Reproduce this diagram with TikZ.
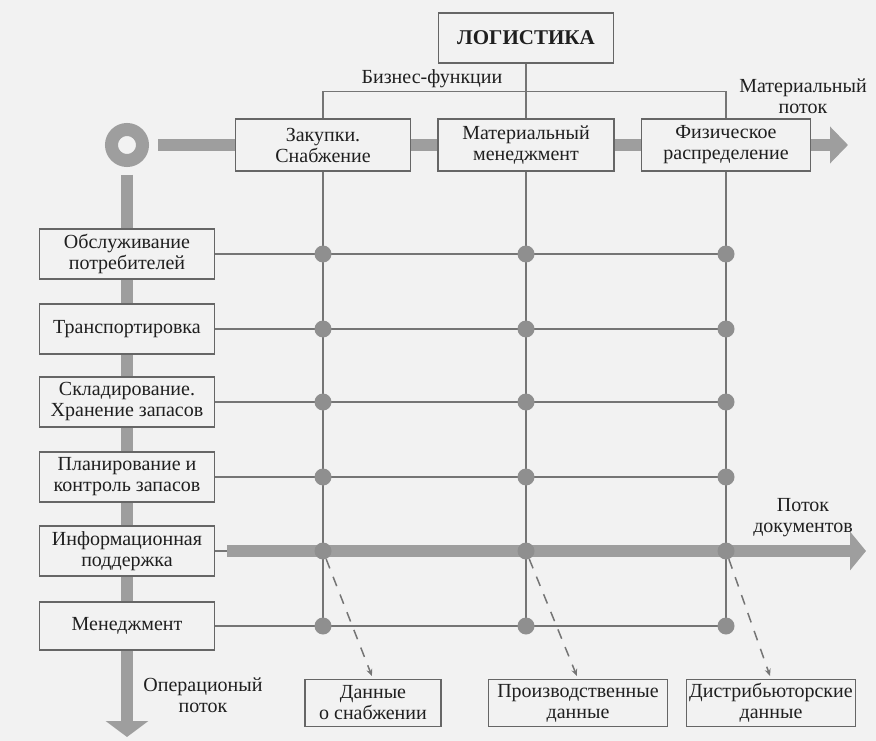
\documentclass[tikz,border=0pt]{standalone}
\usepackage{fontspec}
\setmainfont{Liberation Serif}
\usetikzlibrary{arrows.meta,backgrounds}
\definecolor{paper}{gray}{0.95}
\definecolor{barg}{gray}{0.62}
\definecolor{dotg}{gray}{0.56}
\definecolor{lineg}{gray}{0.46}
\definecolor{boxg}{gray}{0.40}
\definecolor{inkg}{gray}{0.12}
\begin{document}
\begin{tikzpicture}[x=1pt,y=-1pt,
  box/.style={draw=boxg, line width=1.4pt, fill=paper, align=center, inner sep=2pt,
    text=inkg, font=\fontsize{20}{21}\selectfont},
  lbox/.style={box, minimum width=175pt, minimum height=50pt},
  lbl/.style={align=center, text=inkg, font=\fontsize{20}{21}\selectfont},
  ring/.style={circle, draw=barg, line width=13pt, minimum size=31pt, inner sep=0pt},
  dot/.style={circle, fill=dotg, inner sep=0pt, minimum size=17pt},
  bar/.style={draw=barg, line width=12pt},
  thinline/.style={draw=lineg, line width=1.3pt},
  dasharrow/.style={draw=lineg, line width=1.5pt, dash pattern=on 10pt off 9pt,
    -{Stealth[length=7pt,width=6pt]}, shorten >=3pt}]

  \useasboundingbox (0,0) rectangle (876,741);

  % business functions
  \node[box, minimum width=175pt, minimum height=50pt,
    font=\bfseries\fontsize{21}{24}\selectfont] (log) at (526,38) {ЛОГИСТИКА};
  \node[lbl] (biz) at (432,79) {Бизнес-функции};
  \node[box, minimum width=175pt, minimum height=52pt] (zak) at (323,145) {Закупки.\\Снабжение};
  \node[box, minimum width=176pt, minimum height=52pt] (mat) at (526,145) {Материальный\\менеджмент};
  \node[box, minimum width=169pt, minimum height=52pt] (fiz) at (726,145) {Физическое\\распределение};
  \node[lbl] (matlbl) at (803,96) {Материальный\\поток};
  \node[ring] (ring) at (127,145) {};
  \coordinate (matEnd) at (848,145);

  % operations
  \node[lbox] (serv) at (127,254) {Обслуживание\\потребителей};
  \node[lbox] (trans) at (127,329) {Транспортировка};
  \node[lbox] (stor) at (127,402) {Складирование.\\Хранение запасов};
  \node[lbox] (plan) at (127,477) {Планирование и\\контроль запасов};
  \node[lbox] (info) at (127,551) {Информационная\\поддержка};
  \node[lbox, minimum height=48pt] (mgmt) at (127,626) {Менеджмент};
  \node[lbl] (oper) at (203,695) {Операционый\\поток};
  \coordinate (opEnd) at (127,737);

  \node[dot] (p11) at (zak |- serv) {};
  \node[dot] (p12) at (mat |- serv) {};
  \node[dot] (p13) at (fiz |- serv) {};
  \node[dot] (p21) at (zak |- trans) {};
  \node[dot] (p22) at (mat |- trans) {};
  \node[dot] (p23) at (fiz |- trans) {};
  \node[dot] (p31) at (zak |- stor) {};
  \node[dot] (p32) at (mat |- stor) {};
  \node[dot] (p33) at (fiz |- stor) {};
  \node[dot] (p41) at (zak |- plan) {};
  \node[dot] (p42) at (mat |- plan) {};
  \node[dot] (p43) at (fiz |- plan) {};
  \node[dot] (p51) at (zak |- info) {};
  \node[dot] (p52) at (mat |- info) {};
  \node[dot] (p53) at (fiz |- info) {};
  \node[dot] (p61) at (zak |- mgmt) {};
  \node[dot] (p62) at (mat |- mgmt) {};
  \node[dot] (p63) at (fiz |- mgmt) {};

  % documents
  \node[lbl] (doclbl) at (803,518) {Поток\\документов};
  \coordinate (docStart) at (227,551);
  \coordinate (docEnd) at (866,551);
  \node[box, minimum width=136pt, minimum height=47pt] (dsup) at (373,703) {Данные\\о снабжении};
  \node[box, minimum width=179pt, minimum height=47pt] (dprod) at (578,703) {Производственные\\данные};
  \node[box, minimum width=169pt, minimum height=47pt] (ddist) at (771,703) {Дистрибьюторские\\данные};

  \draw[dasharrow] (p51) -- (dsup.north);
  \draw[dasharrow] (p52) -- (dprod.north);
  \draw[dasharrow] (p53) -- (ddist.north);

  \begin{pgfonlayer}{background}
    \fill[paper] (0,0) rectangle (876,741);
    \draw[bar, -{Triangle[width=36pt,length=18pt]}] ([xshift=9pt]ring.east) -- (matEnd);
    \draw[bar, -{Triangle[width=42pt,length=16pt]}] ([yshift=-8pt]ring.south) -- (opEnd);

    \draw[thinline] (zak.north) -- ++(0,-27) -| (fiz.north);
    \draw[thinline] (log.south) -- (p62.center);
    \draw[thinline] (zak.south) -- (p61.center);
    \draw[thinline] (fiz.south) -- (p63.center);

    \draw[thinline] (serv.east) -- (p13.center);
    \draw[thinline] (trans.east) -- (p23.center);
    \draw[thinline] (stor.east) -- (p33.center);
    \draw[thinline] (plan.east) -- (p43.center);
    \draw[thinline] (info.east) -- (p53.center);
    \draw[thinline] (mgmt.east) -- (p63.center);

    \draw[bar, -{Triangle[width=38pt,length=16pt]}] (docStart) -- (docEnd);
  \end{pgfonlayer}
\end{tikzpicture}
\end{document}
